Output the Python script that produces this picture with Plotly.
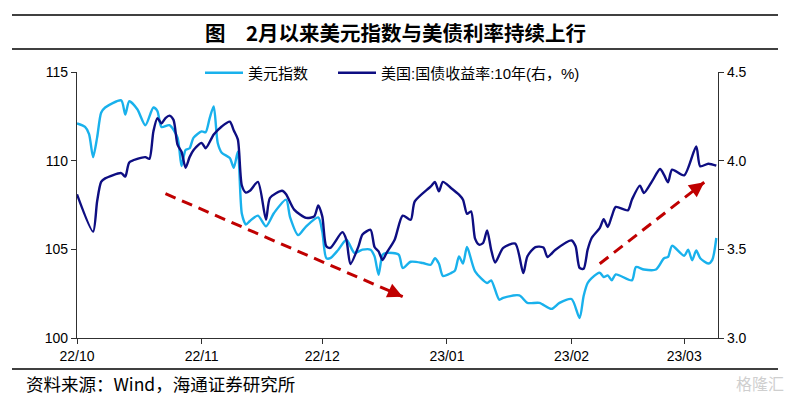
import plotly.graph_objects as go

# ---------------- data ----------------
dxy_dates = [
    "2022-10-01", "2022-10-03", "2022-10-04", "2022-10-05", "2022-10-06", "2022-10-07", "2022-10-08",
    "2022-10-12", "2022-10-13", "2022-10-14", "2022-10-16", "2022-10-18", "2022-10-20", "2022-10-21",
    "2022-10-22", "2022-10-24", "2022-10-26", "2022-10-27", "2022-10-28", "2022-10-29", "2022-10-30",
    "2022-11-01", "2022-11-02", "2022-11-03", "2022-11-04", "2022-11-05", "2022-11-06", "2022-11-08",
    "2022-11-09", "2022-11-10", "2022-11-11", "2022-11-12", "2022-11-13", "2022-11-15", "2022-11-17",
    "2022-11-19", "2022-11-22", "2022-11-23", "2022-11-25", "2022-11-27", "2022-11-30",
    "2022-12-01", "2022-12-02", "2022-12-03", "2022-12-05", "2022-12-07", "2022-12-09", "2022-12-11",
    "2022-12-13", "2022-12-14", "2022-12-15", "2022-12-16", "2022-12-17", "2022-12-20", "2022-12-21",
    "2022-12-23", "2022-12-26", "2022-12-28", "2022-12-29", "2022-12-30", "2022-12-31",
    "2023-01-02", "2023-01-03", "2023-01-04", "2023-01-05", "2023-01-06", "2023-01-08", "2023-01-11",
    "2023-01-12", "2023-01-14", "2023-01-15", "2023-01-19", "2023-01-21", "2023-01-24", "2023-01-27",
    "2023-01-29",
    "2023-02-01", "2023-02-03", "2023-02-04", "2023-02-05", "2023-02-06", "2023-02-08", "2023-02-09",
    "2023-02-10", "2023-02-11", "2023-02-12", "2023-02-16", "2023-02-17", "2023-02-19", "2023-02-22",
    "2023-02-24", "2023-02-25", "2023-02-26",
    "2023-03-01", "2023-03-02", "2023-03-03", "2023-03-04", "2023-03-05", "2023-03-07", "2023-03-08",
    "2023-03-09",
]
dxy_values = [
    112.1, 111.9, 111.5, 110.2, 111.3, 112.7, 113.0,
    113.4, 112.6, 113.35, 112.9, 112.0, 113.0, 112.8,
    111.9, 112.0, 111.3, 109.7, 110.6, 110.7, 111.3,
    111.65, 111.6, 112.4, 113.06, 111.0, 110.45, 110.15,
    109.6, 110.5, 107.0, 106.4, 106.6, 106.9, 106.3,
    107.05, 107.8, 106.8, 105.8, 106.3, 106.8,
    106.0, 104.5, 104.5, 104.98, 105.54, 104.8, 104.98,
    104.98, 104.6, 103.57, 104.7, 104.8, 104.7, 103.95,
    104.3, 104.23, 104.13, 104.5, 104.2, 103.5,
    103.66, 103.8, 104.6, 104.2, 105.13, 103.76, 103.1,
    103.25, 102.16, 102.26, 102.4, 101.98, 101.98, 101.64,
    101.98,
    102.2, 101.13, 102.37, 103.1, 103.38, 103.68, 103.44,
    103.53, 103.25, 103.59, 103.25, 104.0, 103.86, 103.86,
    104.5, 104.57, 105.2,
    104.64, 104.98, 104.38, 104.94, 104.5, 104.2, 104.41,
    105.64,
]

ust_dates = [
    "2022-10-01", "2022-10-05", "2022-10-06", "2022-10-07", "2022-10-08", "2022-10-12", "2022-10-13",
    "2022-10-14", "2022-10-16", "2022-10-18", "2022-10-19", "2022-10-20", "2022-10-21", "2022-10-22",
    "2022-10-23", "2022-10-24", "2022-10-25", "2022-10-26", "2022-10-27", "2022-10-28", "2022-10-29",
    "2022-10-30",
    "2022-11-01", "2022-11-02", "2022-11-04", "2022-11-06", "2022-11-08", "2022-11-09", "2022-11-10",
    "2022-11-11", "2022-11-12", "2022-11-13", "2022-11-15", "2022-11-17", "2022-11-18", "2022-11-21",
    "2022-11-22", "2022-11-24", "2022-11-27", "2022-11-29", "2022-11-30",
    "2022-12-01", "2022-12-02", "2022-12-03", "2022-12-06", "2022-12-07", "2022-12-08", "2022-12-10",
    "2022-12-11", "2022-12-13", "2022-12-14", "2022-12-15", "2022-12-16", "2022-12-17", "2022-12-19",
    "2022-12-21", "2022-12-23", "2022-12-24", "2022-12-28", "2022-12-29", "2022-12-30", "2022-12-31",
    "2023-01-02", "2023-01-04", "2023-01-05", "2023-01-06", "2023-01-07", "2023-01-08", "2023-01-09",
    "2023-01-10", "2023-01-11", "2023-01-12", "2023-01-13", "2023-01-15", "2023-01-18", "2023-01-20",
    "2023-01-21", "2023-01-23", "2023-01-25", "2023-01-26", "2023-01-28",
    "2023-02-01", "2023-02-02", "2023-02-03", "2023-02-04", "2023-02-05", "2023-02-06", "2023-02-08",
    "2023-02-09", "2023-02-10", "2023-02-11", "2023-02-12", "2023-02-15", "2023-02-16", "2023-02-18",
    "2023-02-19", "2023-02-21", "2023-02-23", "2023-02-24", "2023-02-25", "2023-02-26",
    "2023-03-01", "2023-03-04", "2023-03-05", "2023-03-07", "2023-03-09",
]
ust_values = [
    3.81, 3.60, 3.77, 3.88, 3.90, 3.93, 3.91,
    3.99, 4.01, 4.02, 4.01, 4.165, 4.24, 4.21,
    4.24, 4.254, 4.23, 4.09, 4.05, 3.96, 4.02,
    4.06,
    4.10, 4.07, 4.147, 4.193, 4.22, 4.17, 4.12,
    3.86, 3.82, 3.83, 3.88, 3.667, 3.79, 3.83,
    3.81, 3.724, 3.677, 3.686, 3.748,
    3.686, 3.517, 3.508, 3.597, 3.554, 3.417, 3.517,
    3.583, 3.61, 3.513, 3.488, 3.44, 3.48, 3.554,
    3.69, 3.667, 3.77, 3.855, 3.88, 3.827, 3.88,
    3.846, 3.808, 3.78, 3.70, 3.714, 3.56, 3.526,
    3.536, 3.607, 3.498, 3.426, 3.508, 3.532, 3.366,
    3.46, 3.513, 3.51, 3.457, 3.498,
    3.55, 3.517, 3.395, 3.39, 3.498, 3.564, 3.62,
    3.67, 3.626, 3.686, 3.739, 3.72, 3.78, 3.859,
    3.818, 3.883, 3.953, 3.92, 3.878, 3.949,
    3.917, 4.08, 3.968, 3.983, 3.972,
]

month_ticks = ["2022-10-01", "2022-11-01", "2022-12-01", "2023-01-01", "2023-02-01", "2023-03-01"]
dxy_name = "美元指数"
ust_name = "美国:国债收益率:10年(右，%)"
title_text = "图　2月以来美元指数与美债利率持续上行"
source_text = "资料来源：Wind，海通证券研究所"

# trend arrows (start, end) in data units
arrow_down = (("2022-10-23", 108.14), ("2022-12-21", 102.33))
arrow_up = (("2023-02-08", 104.19), ("2023-03-06", 108.78))

# ---------------- layout geometry ----------------
W, H = 790, 396
L, R, T, B = 77, 72, 72, 58
PW, PH = W - L - R, H - T - B


def px(xp):
    return (xp - L) / PW


def py(yp):
    return (H - B - yp) / PH


LIGHT = "#19B1EC"
DARK = "#0E0E82"
RED = "#C00000"
AXIS = "#303030"
LATIN = "Liberation Sans, Arial, Noto Sans CJK SC"
CJK = "Noto Sans CJK SC, Liberation Sans"

fig = go.Figure()
fig.add_trace(go.Scatter(
    x=dxy_dates, y=dxy_values, name=dxy_name, mode="lines",
    line=dict(color=LIGHT, width=2.4, shape="spline", smoothing=0.7),
    yaxis="y", legend="legend",
))
fig.add_trace(go.Scatter(
    x=ust_dates, y=ust_values, name=ust_name, mode="lines",
    line=dict(color=DARK, width=2.4, shape="spline", smoothing=0.7),
    yaxis="y2", legend="legend2",
))

# dashed trend arrows
for (x0, y0), (x1, y1), (axp, ayp) in [
    (arrow_down[0], arrow_down[1], (-11, -5)),
    (arrow_up[0], arrow_up[1], (-9.6, 7.2)),
]:
    fig.add_shape(type="line", xref="x", yref="y", x0=x0, y0=y0, x1=x1, y1=y1,
                  line=dict(color=RED, width=3, dash="11px,7px"))
    fig.add_annotation(x=x1, y=y1, xref="x", yref="y", ax=axp, ay=ayp,
                       showarrow=True, arrowhead=2, arrowsize=1, arrowwidth=3,
                       arrowcolor=RED, text="")

# title and rules
fig.add_annotation(x=px(395), y=py(32), xref="paper", yref="paper", text="<b>" + title_text + "</b>",
                   showarrow=False, font=dict(family=CJK, size=20.5, color="#000"),
                   xanchor="center", yanchor="middle")
for yy in (15, 49, 369):
    fig.add_shape(type="line", xref="paper", yref="paper", x0=px(12), x1=px(778), y0=py(yy), y1=py(yy),
                  line=dict(color="#000", width=1.5))
fig.add_annotation(x=px(24), y=py(383), xref="paper", yref="paper", text=source_text,
                   showarrow=False, font=dict(family=CJK, size=17.5, color="#000"),
                   xanchor="left", yanchor="middle")
fig.add_annotation(x=px(786), y=py(383), xref="paper", yref="paper", text="格隆汇",
                   showarrow=False, font=dict(family=CJK, size=16, color="#CFCFCF"),
                   xanchor="right", yanchor="middle")

legend_common = dict(orientation="h", yanchor="middle", xanchor="left",
                     font=dict(family=LATIN, size=15, color="#000"), bgcolor="rgba(0,0,0,0)",
                     itemwidth=38)

fig.update_layout(
    width=W, height=H,
    margin=dict(l=L, r=R, t=T, b=B, pad=0),
    paper_bgcolor="white", plot_bgcolor="white",
    showlegend=True,
    legend=dict(x=px(200), y=py(73), **legend_common),
    legend2=dict(x=px(333), y=py(73), **legend_common),
    xaxis=dict(type="date", range=["2022-10-01", "2023-03-09 10:00"],
               tickvals=month_ticks, tickformat="%y/%m",
               showline=True, linecolor=AXIS, linewidth=1.2,
               ticks="outside", ticklen=5, tickcolor=AXIS, tickwidth=1,
               showgrid=False, zeroline=False,
               tickfont=dict(family=LATIN, size=14, color="#000")),
    yaxis=dict(range=[100, 115], tickvals=[100, 105, 110, 115], side="left",
               showline=True, linecolor=AXIS, linewidth=1.2,
               ticks="outside", ticklen=5, tickcolor=AXIS, tickwidth=1,
               showgrid=False, zeroline=False,
               tickfont=dict(family=LATIN, size=14, color="#000")),
    yaxis2=dict(range=[3.0, 4.5], tickvals=[3.0, 3.5, 4.0, 4.5], tickformat=".1f",
                overlaying="y", side="right", anchor="x",
                showline=True, linecolor=AXIS, linewidth=1.2,
                ticks="outside", ticklen=5, tickcolor=AXIS, tickwidth=1,
                showgrid=False, zeroline=False,
                tickfont=dict(family=LATIN, size=14, color="#000")),
)

fig.write_html("out.html", config={"displayModeBar": False},
               post_script="document.body.style.margin='0';document.body.style.overflow='hidden';")
